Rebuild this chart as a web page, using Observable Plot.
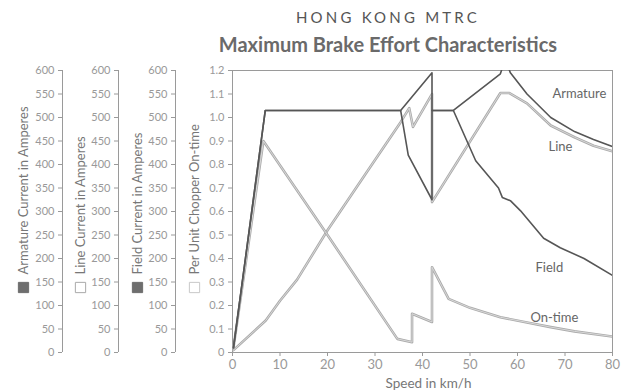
<!DOCTYPE html>
<html>
<head>
<meta charset="utf-8">
<script src="https://cdn.jsdelivr.net/npm/d3@7"></script>
<script src="https://cdn.jsdelivr.net/npm/@observablehq/plot@0.6"></script>
<style>
  html, body { margin: 0; padding: 0; background: #fff; }
  #wrap { position: relative; width: 628px; height: 390px; font-family: Lato, "Noto Sans", sans-serif; }
  #header { position: relative; width: 628px; height: 60px; }
  #sub { position: absolute; left: 388px; top: 8px; transform: translateX(-50%); font-size: 15px; letter-spacing: 3.2px; color: #555; white-space: nowrap; }
  #title { position: absolute; left: 388px; top: 32px; transform: translateX(-50%); font-size: 20px; font-weight: 700; color: #6a6a6a; white-space: nowrap; }
</style>
</head>
<body>
<div id="wrap">
  <div id="header">
    <div id="sub">HONG KONG MTRC</div>
    <div id="title">Maximum Brake Effort Characteristics</div>
  </div>
  <div id="chart"></div>
</div>
<script>
// Speed in km/h; currents in amperes; on-time per unit
const xTicks = [0, 10, 20, 30, 40, 50, 60, 70, 80];
const yTicks = [0, 0.1, 0.2, 0.3, 0.4, 0.5, 0.6, 0.7, 0.8, 0.9, 1.0, 1.1, 1.2];
const ampsPerUnit = 500;

const armatureSpeed = [0.2, 6.9, 35.4, 42, 42, 46.5, 56.4, 57.4, 58.5, 62, 67, 72, 76, 80];
const armatureAmps  = [10, 515, 515, 595, 515, 515, 593, 625, 595, 550, 500, 470, 453, 438];

const fieldSpeed = [0.2, 6.9, 35.4, 37, 42, 42, 46.5, 49, 51.2, 56, 56.8, 58.5, 60.6, 65.5, 69, 74, 80];
const fieldAmps  = [10, 515, 515, 420, 325, 515, 515, 458, 408, 350, 330, 323, 302, 243, 223, 200, 164];

const lineSpeed = [0.2, 7, 10, 13.6, 20, 28, 35.4, 37.2, 38.0, 41.9, 42, 42, 56.4, 58.3, 62, 67, 72, 76, 80];
const lineAmps  = [5, 68, 110, 155, 260, 380, 490, 520, 480, 548, 550, 320, 552, 552, 530, 483, 458, 440, 428];

const onTimeSpeed = [0.2, 6.5, 20, 34.7, 37.8, 37.8, 42, 42, 45.5, 50, 56.4, 62, 67, 72, 80];
const onTime      = [0.02, 0.9, 0.5, 0.058, 0.044, 0.165, 0.13, 0.363, 0.228, 0.19, 0.15, 0.128, 0.108, 0.09, 0.068];

const rows = (s, v, k) => s.map((x, i) => ({speed: x, value: v[i] / k}));
const armature = rows(armatureSpeed, armatureAmps, ampsPerUnit);
const field = rows(fieldSpeed, fieldAmps, ampsPerUnit);
const line = rows(lineSpeed, lineAmps, ampsPerUnit);
const ontime = rows(onTimeSpeed, onTime, 1);

const axisTitles = [
  {t: "Armature Current in Amperes", dx: -209, fill: "#6e6e6e", stroke: "#6e6e6e"},
  {t: "Line Current in Amperes", dx: -152, fill: "#fff", stroke: "#aaa"},
  {t: "Field Current in Amperes", dx: -95, fill: "#6e6e6e", stroke: "#6e6e6e"},
  {t: "Per Unit Chopper On-time", dx: -38, fill: "#fff", stroke: "#c8c8c8"}
];
const curveLabels = [
  {t: "Armature", dx: -60, dy: 23},
  {t: "Line", dx: -64, dy: 76},
  {t: "Field", dx: -77, dy: 197},
  {t: "On-time", dx: -82, dy: 247}
];

const axisColor = "#9a9a9a";
const tickText = "#999";
const ampFmt = d => String(Math.round(d * ampsPerUnit));
const unitFmt = d => d === 0 ? "0" : d.toFixed(1);

const ampAxis = (dx) => [
  Plot.axisY({ticks: yTicks, tickFormat: ampFmt, dx, tickSize: 4, tickPadding: 4, fontSize: 11, color: tickText, stroke: axisColor, label: null}),
  Plot.ruleX([0], {dx, stroke: axisColor})
];

const lightLine = (data) => [
  Plot.line(data, {x: "speed", y: "value", stroke: "#ababab", strokeWidth: 2.6, clip: true}),
  Plot.line(data, {x: "speed", y: "value", stroke: "#dcdcdc", strokeWidth: 0.9, clip: true})
];
const darkLine = (data) =>
  Plot.line(data, {x: "speed", y: "value", stroke: "#565656", strokeWidth: 1.6, clip: true});

const chart = Plot.plot({
  width: 628,
  height: 330,
  marginTop: 10,
  marginBottom: 38,
  marginLeft: 232,
  marginRight: 16,
  style: {fontFamily: "Lato, 'Noto Sans', sans-serif", background: "#fff", color: "#777"},
  x: {domain: [0, 80]},
  y: {domain: [0, 1.2]},
  marks: [
    Plot.frame({stroke: axisColor}),
    Plot.axisX({ticks: xTicks, tickSize: 4, tickPadding: 3, fontSize: 13, color: tickText, stroke: axisColor, label: null}),
    Plot.text(["Speed in km/h"], {frameAnchor: "bottom", dx: 6, dy: 31, fontSize: 13.5, fill: "#777", lineAnchor: "middle"}),
    Plot.axisY({ticks: yTicks, tickFormat: unitFmt, tickSize: 4, tickPadding: 4, fontSize: 11, color: tickText, stroke: axisColor, label: null}),
    ...ampAxis(-57),
    ...ampAxis(-114),
    ...ampAxis(-170),
    ...lightLine(line),
    ...lightLine(ontime),
    darkLine(field),
    darkLine(armature),
    ...curveLabels.map(c => Plot.text([c.t], {frameAnchor: "top-right", dx: c.dx, dy: c.dy, textAnchor: "start", lineAnchor: "middle", fontSize: 13, fill: "#666"})),
    ...axisTitles.map(a => Plot.text([a.t], {frameAnchor: "bottom-left", dx: a.dx, dy: -78, rotate: -90, textAnchor: "start", lineAnchor: "middle", fontSize: 13, fill: "#777"})),
    ...axisTitles.map(a => Plot.dot([a.t], {frameAnchor: "bottom-left", dx: a.dx, dy: -65, symbol: "square", r: 5.8, fill: a.fill, stroke: a.stroke, strokeWidth: 1}))
  ]
});
document.getElementById("chart").appendChild(chart);
</script>
</body>
</html>
